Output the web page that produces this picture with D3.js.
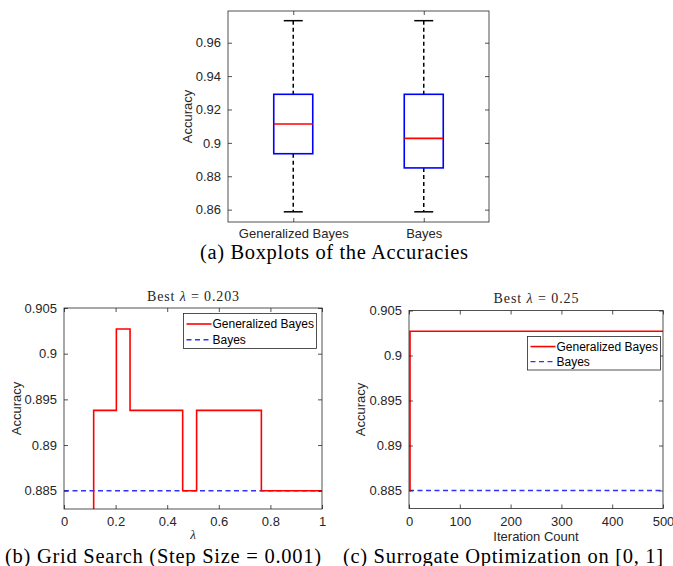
<!DOCTYPE html>
<html><head><meta charset="utf-8">
<script src="https://cdn.jsdelivr.net/npm/d3@7"></script>
<style>
body{margin:0;background:#fff;}
svg{display:block;}
.tick text{font-family:"Liberation Sans",Arial,sans-serif;font-size:13px;fill:#262626;}
</style></head>
<body>
<script>
// ---------- data ----------
const boxCategories = ["Generalized Bayes", "Bayes"];
const boxLowWhisker = [0.8587, 0.8587];
const boxQ1 = [0.8935, 0.8850];
const boxMedian = [0.9113, 0.9027];
const boxQ3 = [0.9291, 0.9291];
const boxHighWhisker = [0.9732, 0.9732];
const boxYTicks = [0.86, 0.88, 0.90, 0.92, 0.94, 0.96];

const gridLambda = [0, 0.115, 0.203, 0.256, 0.460, 0.514, 0.765, 1.0];
const gridGB = [0.870, 0.8938, 0.9027, 0.8938, 0.8850, 0.8938, 0.8850, 0.8850];
const bayesAccuracy = 0.8850;
const gridXTicks = [0, 0.2, 0.4, 0.6, 0.8, 1];
const accYTicks = [0.885, 0.89, 0.895, 0.9, 0.905];

const surIter = [1, 2, 500];
const surGB = [0.8850, 0.9027, 0.9027];
const surXTicks = [0, 100, 200, 300, 400, 500];

const W = 673, H = 566;
const svg = d3.select("body").append("svg").attr("width", W).attr("height", H);
const defs = svg.append("defs");
const sans = '"Liberation Sans",Arial,sans-serif';
const serif = '"Liberation Serif","Times New Roman",serif';
const axisCol = "#262626";

function frame(g, x0, x1, y0, y1, xTicks, xScale, yTicks, yScale, xfmt, yfmt, xPad) {
  const gb = g.append("g").attr("transform", `translate(0,${y1})`)
    .call(d3.axisBottom(xScale).tickValues(xTicks).tickSize(-4).tickPadding(xPad).tickFormat(xfmt));
  const gl = g.append("g").attr("transform", `translate(${x0},0)`)
    .call(d3.axisLeft(yScale).tickValues(yTicks).tickSize(-4).tickPadding(7).tickFormat(yfmt));
  const gt = g.append("g").attr("transform", `translate(0,${y0})`)
    .call(d3.axisTop(xScale).tickValues(xTicks).tickSize(-4).tickFormat(""));
  const gr = g.append("g").attr("transform", `translate(${x1},0)`)
    .call(d3.axisRight(yScale).tickValues(yTicks).tickSize(-4).tickFormat(""));
  [gb, gl, gt, gr].forEach(a => {
    a.select(".domain").remove();
    a.selectAll(".tick line").attr("stroke", axisCol).attr("stroke-width", 0.8);
  });
  g.append("rect").attr("x", x0).attr("y", y0).attr("width", x1 - x0).attr("height", y1 - y0)
    .attr("fill", "none").attr("stroke", axisCol).attr("stroke-width", 0.8);
}

// ---------- (a) boxplot ----------
{
  const x0 = 228, x1 = 489, y0 = 11, y1 = 222;
  const x = d3.scalePoint().domain(boxCategories).range([x0, x1]).padding(0.5);
  const y = d3.scaleLinear().domain([0.8526, 0.9790]).range([y1, y0]);
  const g = svg.append("g");
  const bw = 39, cw = 19;
  boxCategories.forEach((c, i) => {
    const cx = x(c);
    g.append("line").attr("x1", cx).attr("x2", cx).attr("y1", y(boxHighWhisker[i])).attr("y2", y(boxQ3[i]))
      .attr("stroke", "#000").attr("stroke-width", 1.5).attr("stroke-dasharray", "4,3");
    g.append("line").attr("x1", cx).attr("x2", cx).attr("y1", y(boxQ1[i])).attr("y2", y(boxLowWhisker[i]))
      .attr("stroke", "#000").attr("stroke-width", 1.5).attr("stroke-dasharray", "4,3");
    [boxHighWhisker[i], boxLowWhisker[i]].forEach(v => {
      g.append("line").attr("x1", cx - cw / 2).attr("x2", cx + cw / 2).attr("y1", y(v)).attr("y2", y(v))
        .attr("stroke", "#000").attr("stroke-width", 1.5);
    });
    g.append("rect").attr("x", cx - bw / 2).attr("y", y(boxQ3[i])).attr("width", bw)
      .attr("height", y(boxQ1[i]) - y(boxQ3[i])).attr("fill", "none").attr("stroke", "#0000ff").attr("stroke-width", 1.6);
    g.append("line").attr("x1", cx - bw / 2).attr("x2", cx + bw / 2).attr("y1", y(boxMedian[i])).attr("y2", y(boxMedian[i]))
      .attr("stroke", "#ff0000").attr("stroke-width", 1.6);
  });
  frame(g, x0, x1, y0, y1, boxCategories, x, boxYTicks, y, d => d, d3.format("~g"), 7);
  g.append("text").attr("transform", `translate(192,${(y0 + y1) / 2}) rotate(-90)`).attr("text-anchor", "middle")
    .attr("font-family", sans).attr("font-size", 13).attr("fill", axisCol).text("Accuracy");
  svg.append("text").attr("x", 200).attr("y", 259).attr("font-family", serif).attr("font-size", 20.5)
    .attr("textLength", 268).attr("lengthAdjust", "spacing").attr("fill", "#000").text("(a)  Boxplots of the Accuracies");
}

function lineChart(opts) {
  const { x0, x1, y0, y1, xDomain, xTicks, xVals, yVals, clipId, title, xLabel, xLabelSerif, legend, caption, capX, capLen, yLabelX, xfmt } = opts;
  const x = d3.scaleLinear().domain(xDomain).range([x0, x1]);
  const y = d3.scaleLinear().domain([0.883, 0.905]).range([y1, y0]);
  const g = svg.append("g");
  defs.append("clipPath").attr("id", clipId).append("rect").attr("x", x0).attr("y", y0).attr("width", x1 - x0).attr("height", y1 - y0);
  const pg = g.append("g").attr("clip-path", `url(#${clipId})`);
  pg.append("line").attr("x1", x(xDomain[0])).attr("x2", x(xDomain[1])).attr("y1", y(bayesAccuracy)).attr("y2", y(bayesAccuracy))
    .attr("stroke", "#3030ff").attr("stroke-width", 1.3).attr("stroke-dasharray", "5,3.5");
  const line = d3.line().x((d, i) => x(xVals[i])).y(d => y(d)).curve(d3.curveStepAfter);
  pg.append("path").attr("d", line(yVals)).attr("fill", "none").attr("stroke", "#ff0000").attr("stroke-width", 1.6);
  frame(g, x0, x1, y0, y1, xTicks, x, accYTicks, y, xfmt, d3.format("~g"), 8);
  g.append("text").attr("transform", `translate(${yLabelX},${(y0 + y1) / 2}) rotate(-90)`).attr("text-anchor", "middle")
    .attr("font-family", sans).attr("font-size", 13).attr("fill", axisCol).text("Accuracy");
  const cx = (x0 + x1) / 2;
  const t = g.append("text").attr("x", cx - title.len / 2).attr("y", title.y)
    .attr("font-family", serif).attr("font-size", 14).attr("fill", axisCol)
    .attr("textLength", title.len).attr("lengthAdjust", "spacing");
  t.append("tspan").text("Best ");
  t.append("tspan").attr("font-style", "italic").text("λ");
  t.append("tspan").text(" = " + title.val);
  g.append("text").attr("x", cx).attr("y", xLabel.y).attr("text-anchor", "middle")
    .attr("font-family", xLabelSerif ? serif : sans).attr("font-style", xLabelSerif ? "italic" : "normal")
    .attr("font-size", xLabel.size).attr("fill", axisCol).text(xLabel.text);
  const lg = g.append("g");
  lg.append("rect").attr("x", legend.x).attr("y", legend.y).attr("width", legend.w).attr("height", legend.h)
    .attr("fill", "#fff").attr("stroke", axisCol).attr("stroke-width", 0.8);
  const r1 = legend.y + legend.h * 0.3, r2 = legend.y + legend.h * 0.75;
  lg.append("line").attr("x1", legend.x + 3).attr("x2", legend.x + 28).attr("y1", r1).attr("y2", r1)
    .attr("stroke", "#ff0000").attr("stroke-width", 1.6);
  lg.append("line").attr("x1", legend.x + 3).attr("x2", legend.x + 28).attr("y1", r2).attr("y2", r2)
    .attr("stroke", "#3030ff").attr("stroke-width", 1.3).attr("stroke-dasharray", "5,3.5");
  lg.append("text").attr("x", legend.x + 29).attr("y", r1 + 4.3).attr("font-family", sans).attr("font-size", 12)
    .attr("fill", "#000").text("Generalized Bayes");
  lg.append("text").attr("x", legend.x + 29).attr("y", r2 + 4.3).attr("font-family", sans).attr("font-size", 12)
    .attr("fill", "#000").text("Bayes");
  svg.append("text").attr("x", capX).attr("y", 563).attr("font-family", serif).attr("font-size", 20.5)
    .attr("textLength", capLen).attr("lengthAdjust", "spacing").attr("fill", "#000").text(caption);
}

lineChart({
  x0: 64, x1: 322, y0: 308, y1: 509, xDomain: [0, 1], xTicks: gridXTicks, xVals: gridLambda, yVals: gridGB,
  clipId: "c1", title: { y: 301, val: "0.203", len: 92 }, xLabel: { y: 539, text: "λ", size: 13 }, xLabelSerif: true,
  legend: { x: 183.5, y: 313.5, w: 133, h: 35 }, caption: "(b)  Grid Search (Step Size = 0.001)", capX: 5, capLen: 316,
  yLabelX: 21, xfmt: d3.format("~g")
});
lineChart({
  x0: 409, x1: 663, y0: 310.5, y1: 508.5, xDomain: [0, 500], xTicks: surXTicks, xVals: surIter, yVals: surGB,
  clipId: "c2", title: { y: 303, val: "0.25", len: 85 }, xLabel: { y: 541, text: "Iteration Count", size: 13 }, xLabelSerif: false,
  legend: { x: 527.5, y: 336.5, w: 133, h: 33.5 }, caption: "(c)  Surrogate Optimization on [0, 1]", capX: 343, capLen: 320,
  yLabelX: 365, xfmt: d3.format("~g")
});
</script>
</body></html>
